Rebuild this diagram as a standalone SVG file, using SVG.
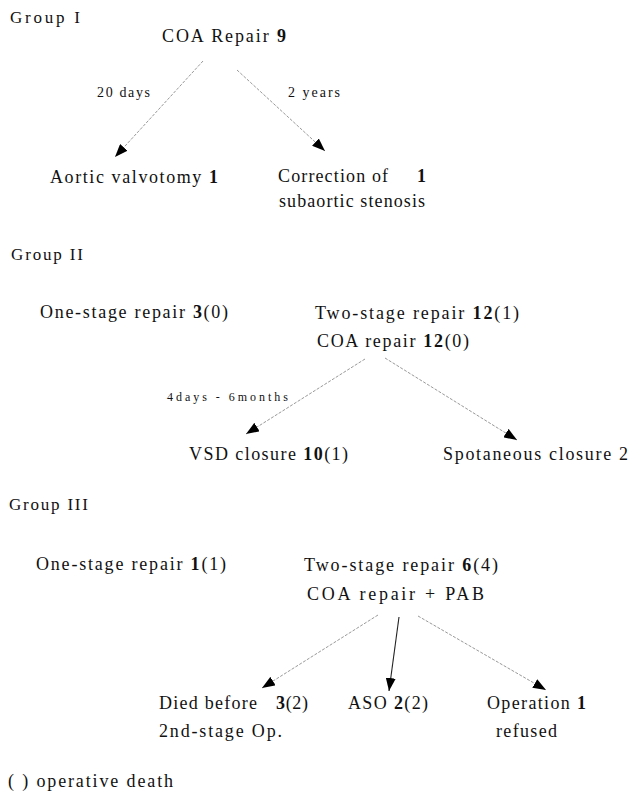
<svg xmlns="http://www.w3.org/2000/svg" width="630" height="794" viewBox="0 0 630 794">
<defs>
<style>
text{font-family:"Liberation Serif","Times New Roman",serif;fill:#111;}
.t{font-size:18px;}
.g{font-size:17px;}
.s{font-size:14px;}
.xs{font-size:12px;}
.b{font-weight:bold;}
.c{fill:none;stroke:#999;stroke-width:1;stroke-dasharray:3 1.5;}
.cd{fill:none;stroke:#222;stroke-width:1.1;}
</style>
<marker id="ah" markerWidth="14" markerHeight="10" refX="13" refY="5" orient="auto" markerUnits="userSpaceOnUse">
<path d="M0,0 L13,5 L0,10 Z" fill="#000"/>
</marker>
</defs>
<rect width="630" height="794" fill="#fff"/>

<g id="labels">
<text class="g" x="10" y="23" textLength="70" lengthAdjust="spacing">Group I</text>
<text class="g" x="11" y="260" textLength="72" lengthAdjust="spacing">Group II</text>
<text class="g" x="9" y="510" textLength="79" lengthAdjust="spacing">Group III</text>
<text class="t" x="8" y="787" textLength="165" lengthAdjust="spacing">( ) operative death</text>
</g>

<g id="connectors">
<line class="c" x1="203" y1="61" x2="115" y2="157" marker-end="url(#ah)"/>
<line class="c" x1="237" y1="70" x2="325" y2="151" marker-end="url(#ah)"/>
<text class="s" x="97" y="97" textLength="53" lengthAdjust="spacing">20 days</text>
<text class="s" x="288" y="97" textLength="52" lengthAdjust="spacing">2 years</text>

<line class="c" x1="365" y1="359" x2="246" y2="434" marker-end="url(#ah)"/>
<line class="c" x1="385" y1="358" x2="517" y2="440" marker-end="url(#ah)"/>
<text class="xs" x="167" y="401" textLength="121" lengthAdjust="spacing">4days - 6months</text>

<line class="c" x1="378" y1="615" x2="262" y2="688" marker-end="url(#ah)"/>
<line class="cd" x1="399" y1="617" x2="389" y2="691" marker-end="url(#ah)"/>
<line class="c" x1="418" y1="616" x2="546" y2="690" marker-end="url(#ah)"/>
</g>

<g id="n-coa1"><text class="t" x="162" y="42" textLength="124" lengthAdjust="spacing">COA Repair <tspan class="b">9</tspan></text></g>
<g id="n-aortic"><text class="t" x="50" y="183" textLength="168" lengthAdjust="spacing">Aortic valvotomy <tspan class="b">1</tspan></text></g>
<g id="n-correction">
<text class="t" x="278" y="182" textLength="110" lengthAdjust="spacing">Correction of</text>
<text class="t b" x="417" y="182">1</text>
<text class="t" x="279" y="207" textLength="146" lengthAdjust="spacing">subaortic stenosis</text>
</g>

<g id="n-one2"><text class="t" x="40" y="318" textLength="188" lengthAdjust="spacing">One-stage repair <tspan class="b">3</tspan>(0)</text></g>
<g id="n-two2">
<text class="t" x="315" y="319" textLength="204" lengthAdjust="spacing">Two-stage repair <tspan class="b">12</tspan>(1)</text>
<text class="t" x="317" y="347" textLength="152" lengthAdjust="spacing">COA repair <tspan class="b">12</tspan>(0)</text>
</g>
<g id="n-vsd"><text class="t" x="189" y="460" textLength="159" lengthAdjust="spacing">VSD closure <tspan class="b">10</tspan>(1)</text></g>
<g id="n-spont"><text class="t" x="443" y="460" textLength="185" lengthAdjust="spacing">Spotaneous closure 2</text></g>

<g id="n-one3"><text class="t" x="36" y="570" textLength="190" lengthAdjust="spacing">One-stage repair <tspan class="b">1</tspan>(1)</text></g>
<g id="n-two3">
<text class="t" x="304" y="571" textLength="194" lengthAdjust="spacing">Two-stage repair <tspan class="b">6</tspan>(4)</text>
<text class="t" x="307" y="600" textLength="177" lengthAdjust="spacing">COA repair + PAB</text>
</g>
<g id="n-died">
<text class="t" x="159" y="709" textLength="98" lengthAdjust="spacing">Died before</text>
<text class="t" x="276" y="709" textLength="32" lengthAdjust="spacing"><tspan class="b">3</tspan>(2)</text>
<text class="t" x="159" y="737" textLength="123" lengthAdjust="spacing">2nd-stage Op.</text>
</g>
<g id="n-aso"><text class="t" x="348" y="709" textLength="80" lengthAdjust="spacing">ASO <tspan class="b">2</tspan>(2)</text></g>
<g id="n-refused">
<text class="t" x="487" y="709" textLength="99" lengthAdjust="spacing">Operation <tspan class="b">1</tspan></text>
<text class="t" x="496" y="737" textLength="61" lengthAdjust="spacing">refused</text>
</g>
</svg>
